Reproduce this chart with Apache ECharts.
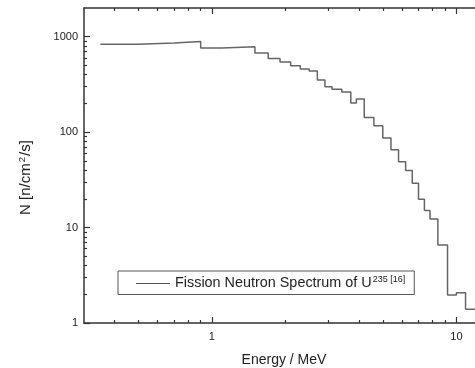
<!DOCTYPE html>
<html>
<head>
<meta charset="utf-8">
<script src="https://cdn.jsdelivr.net/npm/echarts@6/dist/echarts.min.js"></script>
<style>
html,body{margin:0;padding:0;background:#fff;}
#chart{width:475px;height:368px;}
</style>
</head>
<body>
<div id="chart"></div>
<script>
// Bin left edges (MeV) and flux values N [n/cm2/s]
var binEdges = [0.35, 0.5, 0.7, 0.9, 1.1, 1.5, 1.7, 1.9, 2.1, 2.3, 2.5, 2.7, 2.9, 3.1, 3.4, 3.7, 3.9, 4.2, 4.6, 5.0, 5.4, 5.8, 6.2, 6.6, 7.0, 7.4, 7.8, 8.4, 9.2, 10.0, 10.9, 14.0];
var fluxValues = [834, 859, 891, 761, 786, 675, 592, 543, 496, 460, 437, 352, 299, 281, 263, 202, 222, 142, 117, 86.6, 65.3, 48.9, 39.6, 29.2, 19.8, 15.1, 12.3, 6.58, 1.97, 2.08, 1.39, 1.39];
var xMajorTicks = [1, 10];
var xMinorTicks = [0.4, 0.5, 0.6, 0.7, 0.8, 0.9, 2, 3, 4, 5, 6, 7, 8, 9];
var yMajorTicks = [1, 10, 100, 1000];
var yMinorTicks = [2, 3, 4, 5, 6, 7, 8, 9, 20, 30, 40, 50, 60, 70, 80, 90, 200, 300, 400, 500, 600, 700, 800, 900];
var seriesName = 'Fission Neutron Spectrum of U';

var data = binEdges.map(function (e, i) { return [e, fluxValues[i]]; });

var axisColor = '#333';
var font = 'Liberation Sans, Arial, sans-serif';

function xAx(pos, major, showLabel, showLine) {
  return {
    type: 'log', logBase: 10, min: 0.3, max: 20, position: pos, gridIndex: 0,
    axisLine: { show: showLine, onZero: false, lineStyle: { color: axisColor, width: 1.5 } },
    axisTick: { show: true, inside: true, length: major ? 6 : 3, customValues: major ? xMajorTicks : xMinorTicks, lineStyle: { color: axisColor, width: 1.2 } },
    minorTick: { show: false },
    axisLabel: { show: showLabel, customValues: xMajorTicks, margin: 8, color: '#222', fontSize: 11, fontFamily: font, formatter: function (v) { return String(v); } },
    splitLine: { show: false },
    name: showLabel ? '{n|Energy / MeV}' : '',
    nameLocation: 'middle', nameGap: 30,
    nameTextStyle: { rich: { n: { fontSize: 14, fontFamily: font, color: '#222', padding: [0, 46, 0, 0] } } }
  };
}
function yAx(major, showLabel, showLine) {
  return {
    type: 'log', logBase: 10, min: 1, max: 2000, position: 'left', gridIndex: 0,
    axisLine: { show: showLine, onZero: false, lineStyle: { color: axisColor, width: 1.5 } },
    axisTick: { show: true, inside: true, length: major ? 6 : 3, customValues: major ? yMajorTicks : yMinorTicks, lineStyle: { color: axisColor, width: 1.2 } },
    minorTick: { show: false },
    axisLabel: { show: showLabel, customValues: yMajorTicks, margin: 6, color: '#222', fontSize: 11, fontFamily: font, formatter: function (v) { return String(v); } },
    splitLine: { show: false },
    name: showLabel ? '{a|N [n/cm}{s|2}{a|/s]}' : '',
    nameLocation: 'middle', nameGap: 50,
    nameTextStyle: {
      padding: [0, 24, 0, 0],
      rich: {
        a: { fontSize: 15, fontFamily: font, color: '#222' },
        s: { fontSize: 9.5, fontFamily: font, color: '#222', verticalAlign: 'top', padding: [0, 1, 7, 1] }
      }
    }
  };
}

var chart = echarts.init(document.getElementById('chart'), null, { renderer: 'canvas' });
chart.setOption({
  animation: false,
  backgroundColor: '#fff',
  grid: { left: 84, top: 8, width: 446, height: 315, outerBoundsMode: 'none', containLabel: false },
  xAxis: [xAx('bottom', true, true, true), xAx('bottom', false, false, false), xAx('top', true, false, true), xAx('top', false, false, false)],
  yAxis: [yAx(true, true, true), yAx(false, false, false)],
  legend: {
    left: 118, top: 271,
    orient: 'horizontal',
    padding: [4, 9, 4, 18],
    borderColor: '#555', borderWidth: 1,
    itemWidth: 34, itemHeight: 1,
    data: [{ name: seriesName, icon: 'rect', itemStyle: { color: '#555' } }],
    formatter: function (n) { return '{t|' + n + '}{s|235 [16]}'; },
    textStyle: {
      rich: {
        t: { fontSize: 14.4, fontFamily: font, color: '#222' },
        s: { fontSize: 9, fontFamily: font, color: '#222', verticalAlign: 'top', padding: [0, 0, 8, 1] }
      }
    }
  },
  series: [{
    name: seriesName,
    type: 'line',
    step: 'end',
    xAxisIndex: 0, yAxisIndex: 0,
    data: data,
    showSymbol: false,
    symbol: 'none',
    lineStyle: { color: '#666', width: 1.5 },
    itemStyle: { color: '#666' },
    clip: true
  }]
});
</script>
</body>
</html>
